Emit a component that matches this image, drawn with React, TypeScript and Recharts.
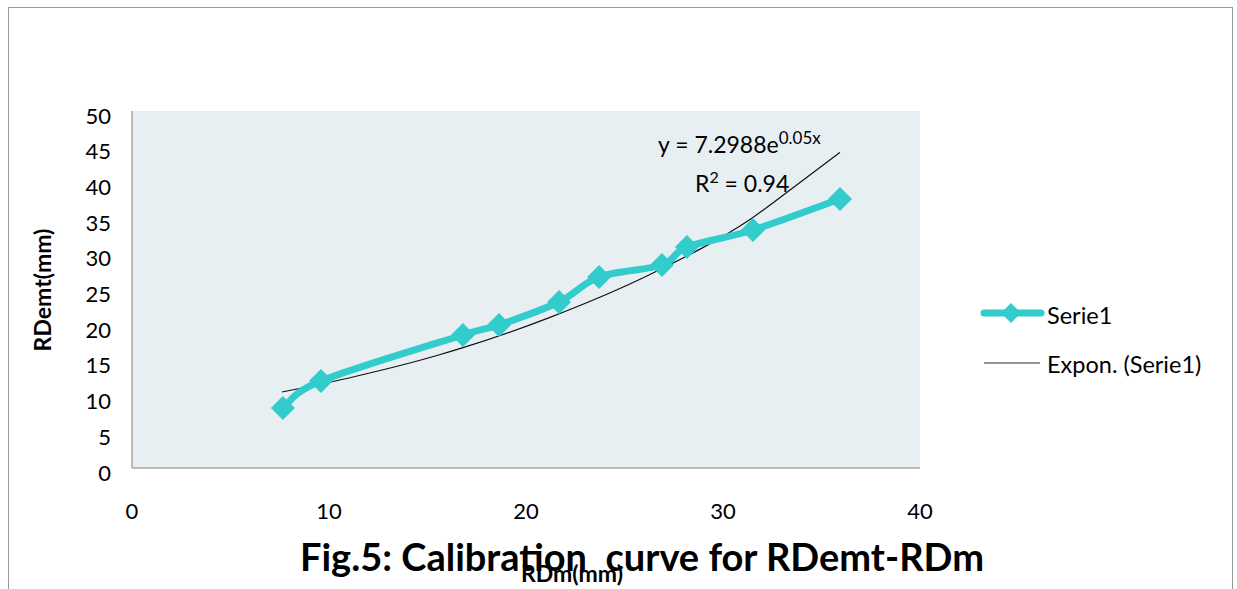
import React from 'react';
import { ComposedChart, Line, XAxis, YAxis, ReferenceArea } from 'recharts';

const rdm: number[] = [7.66, 9.59, 16.8, 18.63, 21.68, 23.71, 26.9, 28.17, 31.52, 35.94];
const rdemt: number[] = [8.4, 12.18, 18.63, 20.03, 23.25, 26.75, 28.43, 30.95, 33.33, 37.68];
const trendX: number[] = [7.61, 11.22, 15.48, 16.8, 21.22, 26.29, 31.52, 34.06, 35.94];
const trendY: number[] = [10.64, 12.75, 15.75, 16.85, 21.1, 27.1, 35.1, 40.3, 44.2];
const xTicks: number[] = [0, 10, 20, 30, 40];
const yTicks: number[] = [0, 5, 10, 15, 20, 25, 30, 35, 40, 45, 50];
const seriesName = 'Serie1';
const trendName = 'Expon. (Serie1)';
const titleText = 'Fig.5: Calibration  curve for RDemt-RDm';
const xTitle = 'RDm(mm)';
const yTitle = 'RDemt(mm)';

const serieData = rdm.map((x, i) => ({ x, y: rdemt[i] }));
const trendData = trendX.map((x, i) => ({ x, y: trendY[i] }));

const FONT = 'Lato, "Open Sans", sans-serif';
const TEAL = '#33CCCC';

// Excel-style smoothed line (Catmull-Rom through the points)
const excelSmooth: any = (context: any) => {
  let pts: number[][] = [];
  return {
    areaStart() {},
    areaEnd() {},
    lineStart() {
      pts = [];
    },
    point(x: number, y: number) {
      pts.push([+x, +y]);
    },
    lineEnd() {
      if (!pts.length) return;
      context.moveTo(pts[0][0], pts[0][1]);
      for (let i = 0; i < pts.length - 1; i++) {
        const p0 = pts[i - 1] || pts[i];
        const p1 = pts[i];
        const p2 = pts[i + 1];
        const p3 = pts[i + 2] || pts[i + 1];
        const c1x = p1[0] + (p2[0] - p0[0]) / 6;
        const c1y = p1[1] + (p2[1] - p0[1]) / 6;
        const c2x = p2[0] - (p3[0] - p1[0]) / 6;
        const c2y = p2[1] - (p3[1] - p1[1]) / 6;
        context.bezierCurveTo(c1x, c1y, c2x, c2y, p2[0], p2[1]);
      }
    },
  };
};

const Diamond = (props: any) => {
  const { cx, cy } = props;
  if (cx == null || cy == null) return null;
  const r = 12;
  return <polygon points={`${cx},${cy - r} ${cx + r},${cy} ${cx},${cy + r} ${cx - r},${cy}`} fill={TEAL} />;
};

const XTick = (props: any) => {
  const { x, y, payload } = props;
  return (
    <text x={x} y={y + 42} textAnchor="middle" dominantBaseline="central" fontSize={22} fontFamily={FONT} fill="#000">
      {payload.value}
    </text>
  );
};

const YTick = (props: any) => {
  const { x, y, payload } = props;
  return (
    <text x={x - 21} y={y + 4} textAnchor="end" dominantBaseline="central" fontSize={22} fontFamily={FONT} fill="#000">
      {payload.value}
    </text>
  );
};

export default function App() {
  return (
    <div style={{ position: 'absolute', left: 0, top: 0, width: 1237, height: 589, overflow: 'hidden', background: '#fff' }}>
      <div style={{ position: 'absolute', left: 8, top: 7, width: 1225, height: 700, border: '1.5px solid #9a9a9a', boxSizing: 'border-box' }} />
      <div style={{ position: 'absolute', left: 0, top: 0 }}>
        <ComposedChart width={1237} height={589} margin={{ top: 111, right: 317, left: 0, bottom: 0 }}>
          <XAxis
            type="number"
            dataKey="x"
            domain={[0, 40]}
            ticks={xTicks}
            allowDataOverflow
            height={121}
            tickSize={0}
            tickMargin={0}
            tickLine={false}
            axisLine={{ stroke: '#a6a6a6', strokeWidth: 1.5 }}
            tick={<XTick />}
          />
          <YAxis
            type="number"
            dataKey="y"
            domain={[0, 50]}
            ticks={yTicks}
            allowDataOverflow
            width={132}
            tickSize={0}
            tickMargin={0}
            tickLine={false}
            axisLine={{ stroke: '#a6a6a6', strokeWidth: 1.5 }}
            tick={<YTick />}
          />
          <ReferenceArea x1={0} x2={40} y1={0} y2={50} fill="#e8eff3" fillOpacity={1} stroke="none" ifOverflow="hidden" />
          <Line
            data={trendData}
            dataKey="y"
            name={trendName}
            type="monotone"
            stroke="#111"
            strokeWidth={1.2}
            dot={false}
            activeDot={false}
            isAnimationActive={false}
          />
          <Line
            data={serieData}
            dataKey="y"
            name={seriesName}
            type={excelSmooth}
            stroke={TEAL}
            strokeWidth={7}
            dot={<Diamond />}
            activeDot={false}
            isAnimationActive={false}
          />
        </ComposedChart>
      </div>
      <svg style={{ position: 'absolute', left: 980, top: 296, overflow: 'visible' }} width={257} height={100}>
        <line x1={4} y1={17} x2={61} y2={17} stroke={TEAL} strokeWidth={7} strokeLinecap="round" />
        <polygon points="31,7 41,17 31,27 21,17" fill={TEAL} />
        <text x={67} y={19} dominantBaseline="central" fontSize={23.5} fontFamily={FONT} fill="#000">{seriesName}</text>
        <line x1={4} y1={67} x2={60} y2={67} stroke="#707070" strokeWidth={1.5} />
        <text x={67} y={68} dominantBaseline="central" fontSize={23.5} fontFamily={FONT} fill="#000">{trendName}</text>
      </svg>
      <div style={{ position: 'absolute', left: 42, top: 290, transform: 'translate(-50%, -50%) rotate(-90deg)', fontFamily: FONT, fontWeight: 700, fontSize: 23, whiteSpace: 'nowrap', color: '#000' }}>
        {yTitle}
      </div>
      <div style={{ position: 'absolute', left: 642, top: 556, transform: 'translate(-50%, -50%)', fontFamily: FONT, fontWeight: 700, fontSize: 38, whiteSpace: 'pre', color: '#000' }}>
        {titleText}
      </div>
      <div style={{ position: 'absolute', left: 572, top: 573, transform: 'translate(-50%, -50%)', fontFamily: FONT, fontWeight: 700, fontSize: 23, whiteSpace: 'nowrap', color: '#000' }}>
        {xTitle}
      </div>
      <div style={{ position: 'absolute', left: 658, top: 124, fontFamily: FONT, fontSize: 23, whiteSpace: 'nowrap', color: '#000', lineHeight: '28px' }}>
        y = 7.2988e<sup style={{ fontSize: 17 }}>0.05x</sup>
      </div>
      <div style={{ position: 'absolute', left: 695, top: 163, fontFamily: FONT, fontSize: 23, whiteSpace: 'nowrap', color: '#000', lineHeight: '28px' }}>
        R<sup style={{ fontSize: 16 }}>2</sup> = 0.94
      </div>
    </div>
  );
}
